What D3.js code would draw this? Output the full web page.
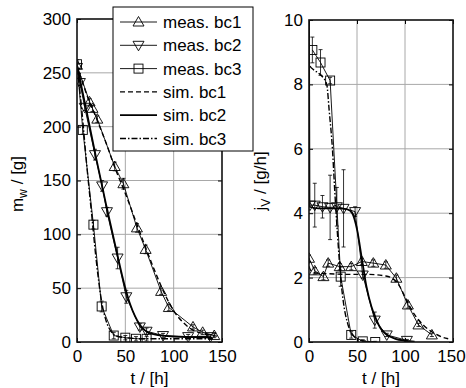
<!DOCTYPE html>
<html>
<head>
<meta charset="utf-8">
<script src="https://cdn.jsdelivr.net/npm/d3@7"></script>
<style>
  html, body { margin: 0; padding: 0; background: #fff; }
  svg { display: block; font-family: "Liberation Sans", Arial, sans-serif; }
</style>
</head>
<body>
<div id="chart"></div>
<script>
// ---- data: water mass m_w (left panel) ----
const mT1 = [0, 13, 16, 21, 39, 48, 62, 71, 87, 95, 120, 130, 142];
const mM1 = [257, 223, 217, 207, 163, 147, 106, 86, 47, 32, 14, 9, 6];
const mE1 = [3, 3, 3, 3, 4, 5, 4, 4, 3, 3, 2, 2, 2];
const mT2 = [0, 3, 8, 18.6, 26, 31, 42, 51, 65, 72, 89, 115, 138];
const mM2 = [255, 241, 218, 174, 145, 121, 78, 42, 14, 10, 6, 5, 5];
const mE2 = [3, 3, 3, 5, 5, 4, 10, 6, 3, 3, 2, 2, 2];
const mT3 = [0, 6, 17, 25.5, 38, 50, 61, 72];
const mM3 = [258, 197, 109, 33, 6, 4, 3, 3];
const mE3 = [4, 4, 4, 5, 3, 2, 2, 2];

const sT1 = [0, 10, 20, 30, 40, 50, 60, 70, 80, 90, 100, 110, 120, 130, 140, 145];
const sM1 = [257, 230, 208, 185, 160, 138, 114, 90, 67, 46, 29, 18, 11, 8, 6, 5.5];
const sT2 = [0, 10, 20, 30, 40, 50, 55, 60, 65, 70, 80, 100, 120, 140];
const sM2 = [257, 214, 170, 128, 88, 50, 35, 24, 16, 11, 7, 5, 4.5, 4];
const sT3 = [0, 5, 10, 15, 20, 25, 30, 35, 40, 50, 70, 100, 140];
const sM3 = [257, 215, 165, 120, 75, 40, 20, 10, 6, 4, 3, 3, 3];

// ---- data: vapour flux j_V (right panel) ----
const jT1 = [0, 6, 15, 20, 32, 44, 55, 67, 80, 91, 103, 114, 128];
const jJ1 = [2.6, 2.21, 2.03, 2.45, 2.34, 2.34, 2.5, 2.45, 2.39, 1.98, 1.15, 0.53, 0.22];
const jE1 = [0.1, 0.1, 0.1, 0.1, 0.1, 0.1, 0.1, 0.1, 0.1, 0.1, 0.1, 0.05, 0.05];
const jT2 = [1, 6, 14, 22, 29, 36, 48, 56, 68.5, 81, 102];
const jJ2 = [4.25, 4.25, 4.2, 4.18, 4.2, 4.15, 4.05, 2.08, 0.68, 0.22, 0.05];
const jE2 = [0, 0.68, 0.35, 1.0, 0.6, 1.2, 0.15, 0.1, 0.25, 0.05, 0.03];
const jT3 = [3.5, 12, 22, 33, 44, 56, 69];
const jJ3 = [9.07, 8.68, 8.12, 2.03, 0.22, 0.02, 0.0];
const jE3 = [0.4, 0.4, 0.1, 0.3, 0.1, 0.05, 0.02];

const sjT1 = [0, 0.5, 5, 20, 40, 60, 80, 90, 95, 100, 105, 110, 120, 130, 140, 145];
const sjJ1 = [2.6, 2.3, 2.15, 2.12, 2.1, 2.1, 2.05, 1.9, 1.7, 1.4, 1.1, 0.85, 0.5, 0.28, 0.14, 0.1];
const sjT2 = [0, 0.5, 10, 30, 40, 45, 50, 55, 60, 65, 70, 75, 80, 90, 100, 110];
const sjJ2 = [10, 4.2, 4.15, 4.15, 4.12, 4.0, 3.5, 2.6, 1.7, 1.1, 0.7, 0.4, 0.25, 0.1, 0.04, 0.01];
const sjT3 = [0, 0.5, 5, 10, 15, 18.5, 21, 24.4, 27, 30, 33, 36, 40, 45, 50, 60, 70];
const sjJ3 = [10, 8.6, 8.45, 8.35, 8.2, 8.0, 7.2, 6.0, 4.6, 3.2, 2.0, 1.2, 0.6, 0.25, 0.1, 0.02, 0];

const xTicks = [0, 50, 100, 150];
const mTicks = [0, 50, 100, 150, 200, 250, 300];
const jTicks = [0, 2, 4, 6, 8, 10];
const legendLabels = ["meas. bc1", "meas. bc2", "meas. bc3", "sim. bc1", "sim. bc2", "sim. bc3"];

const W = 466, H = 388;
const FONT = 17;
const GRID = "#a8a8a8";

const svg = d3.select("#chart").append("svg")
    .attr("width", W).attr("height", H)
    .attr("viewBox", `0 0 ${W} ${H}`);

const zip = (a, b, e) => a.map((t, i) => ({ t, v: b[i], e: e ? e[i] : 0 }));

// marker shapes, centred at 0,0
function marker(g, kind) {
    if (kind === "up") g.append("path").attr("d", "M0,-5.5L5.5,4L-5.5,4Z");
    else if (kind === "down") g.append("path").attr("d", "M0,5.5L5.5,-4L-5.5,-4Z");
    else g.append("rect").attr("x", -4.5).attr("y", -4.5).attr("width", 9).attr("height", 9);
    g.selectAll("path,rect").attr("fill", "none").attr("stroke", "#000").attr("stroke-width", 0.9);
}

function panel(id, x, y, yTicks, meas, sims, ylabel) {
    const [x0, x1] = x.range(), [y0, y1] = y.range();
    const g = svg.append("g");
    svg.append("clipPath").attr("id", id).append("rect")
        .attr("x", x0).attr("y", y1).attr("width", x1 - x0).attr("height", y0 - y1);

    // grid
    g.append("g").selectAll("line").data(xTicks.slice(1, -1)).join("line")
        .attr("x1", d => x(d)).attr("x2", d => x(d)).attr("y1", y1).attr("y2", y0)
        .attr("stroke", GRID).attr("stroke-width", 1);
    g.append("g").selectAll("line").data(yTicks.slice(1, -1)).join("line")
        .attr("x1", x0).attr("x2", x1).attr("y1", d => y(d)).attr("y2", d => y(d))
        .attr("stroke", GRID).attr("stroke-width", 1);

    // axes: inward ticks on all four sides
    const axB = g.append("g").attr("transform", `translate(0,${y0})`)
        .call(d3.axisBottom(x).tickValues(xTicks).tickSize(-4).tickPadding(8).tickSizeOuter(0));
    const axL = g.append("g").attr("transform", `translate(${x0},0)`)
        .call(d3.axisLeft(y).tickValues(yTicks).tickSize(-4).tickPadding(6).tickSizeOuter(0));
    g.append("g").attr("transform", `translate(0,${y1})`)
        .call(d3.axisTop(x).tickValues(xTicks).tickSize(-4).tickFormat("").tickSizeOuter(0));
    g.append("g").attr("transform", `translate(${x1},0)`)
        .call(d3.axisRight(y).tickValues(yTicks).tickSize(-4).tickFormat("").tickSizeOuter(0));
    g.selectAll(".domain").remove();
    g.selectAll(".tick line").attr("stroke", "#000");
    g.selectAll(".tick text").attr("font-size", FONT).attr("fill", "#000")
        .attr("font-family", "Liberation Sans, Arial, sans-serif");
    axB.selectAll(".tick text").attr("dy", "0.72em")
        .attr("dx", d => (d === 150 && x1 > 400) ? -2 : 0);

    // data
    const d = svg.append("g").attr("clip-path", `url(#${id})`);
    const lin = d3.line().x(p => x(p.t)).y(p => y(p.v));
    const smooth = d3.line().x(p => x(p.t)).y(p => y(p.v)).curve(d3.curveMonotoneX);

    sims.forEach(s => {
        d.append("path").datum(s.pts).attr("d", smooth)
            .attr("fill", "none").attr("stroke", "#000")
            .attr("stroke-width", s.w).attr("stroke-dasharray", s.dash);
    });
    meas.forEach(m => {
        d.append("path").datum(m.pts).attr("d", lin)
            .attr("fill", "none").attr("stroke", "#000").attr("stroke-width", 0.9);
        const eb = d.append("g").attr("stroke", "#000").attr("stroke-width", 0.8);
        m.pts.filter(p => p.e > 0).forEach(p => {
            const xa = x(p.t), ya = y(p.v + p.e), yb = y(p.v - p.e);
            eb.append("line").attr("x1", xa).attr("x2", xa).attr("y1", ya).attr("y2", yb);
            eb.append("line").attr("x1", xa - 2).attr("x2", xa + 2).attr("y1", ya).attr("y2", ya);
            eb.append("line").attr("x1", xa - 2).attr("x2", xa + 2).attr("y1", yb).attr("y2", yb);
        });
        m.pts.forEach(p => {
            const mg = d.append("g").attr("transform", `translate(${x(p.t)},${y(p.v)})`);
            marker(mg, m.kind);
        });
    });

    // frame
    svg.append("rect").attr("x", x0).attr("y", y1).attr("width", x1 - x0).attr("height", y0 - y1)
        .attr("fill", "none").attr("stroke", "#111").attr("stroke-width", 1.6);

    // labels
    svg.append("text").attr("x", (x0 + x1) / 2).attr("y", 384)
        .attr("text-anchor", "middle").attr("font-size", FONT).text("t / [h]");
    const yl = svg.append("text")
        .attr("transform", `translate(${ylabel.x},${ylabel.y}) rotate(-90)`)
        .attr("text-anchor", "middle").attr("font-size", FONT);
    yl.append("tspan").text(ylabel.main);
    yl.append("tspan").attr("font-size", FONT * 0.72).attr("dy", 4).text(ylabel.sub);
    yl.append("tspan").attr("dy", -4).text(" / " + ylabel.unit);
}

const xL = d3.scaleLinear().domain([0, 150]).range([77, 222]);
const yL = d3.scaleLinear().domain([0, 300]).range([342, 19]);
const xR = d3.scaleLinear().domain([0, 150]).range([309, 453]);
const yR = d3.scaleLinear().domain([0, 10]).range([342, 20]);

const simStyle = [
    { w: 1.4, dash: "5,3" },
    { w: 1.8, dash: null },
    { w: 1.4, dash: "6,2,1.5,2" }
];

panel("clipL", xL, yL, mTicks,
    [
        { kind: "up", pts: zip(mT1, mM1, mE1) },
        { kind: "down", pts: zip(mT2, mM2, mE2) },
        { kind: "sq", pts: zip(mT3, mM3, mE3) }
    ],
    [
        { ...simStyle[0], pts: zip(sT1, sM1) },
        { ...simStyle[1], pts: zip(sT2, sM2) },
        { ...simStyle[2], pts: zip(sT3, sM3) }
    ],
    { x: 23, y: 184, main: "m", sub: "w", unit: "[g]" });

panel("clipR", xR, yR, jTicks,
    [
        { kind: "up", pts: zip(jT1, jJ1, jE1) },
        { kind: "down", pts: zip(jT2, jJ2, jE2) },
        { kind: "sq", pts: zip(jT3, jJ3, jE3) }
    ],
    [
        { ...simStyle[0], pts: zip(sjT1, sjJ1) },
        { ...simStyle[1], pts: zip(sjT2, sjJ2) },
        { ...simStyle[2], pts: zip(sjT3, sjJ3) }
    ],
    { x: 266, y: 181, main: "j", sub: "V", unit: "[g/h]" });

// legend (drawn over the left panel)
const lg = svg.append("g");
lg.append("rect").attr("x", 113).attr("y", 7).attr("width", 140).attr("height", 144)
    .attr("fill", "#fff").attr("stroke", "#000").attr("stroke-width", 1);
const kinds = ["up", "down", "sq"];
legendLabels.forEach((lab, i) => {
    const cy = 22 + i * 23.3;
    const row = lg.append("g");
    const ln = row.append("line").attr("x1", 120).attr("x2", 157).attr("y1", cy).attr("y2", cy)
        .attr("stroke", "#000");
    if (i < 3) {
        ln.attr("stroke-width", 0.9);
        marker(row.append("g").attr("transform", `translate(138.5,${cy})`), kinds[i]);
    } else {
        ln.attr("stroke-width", simStyle[i - 3].w).attr("stroke-dasharray", simStyle[i - 3].dash);
    }
    row.append("text").attr("x", 163).attr("y", cy).attr("dy", "0.36em")
        .attr("font-size", FONT).text(lab);
});
</script>
</body>
</html>
